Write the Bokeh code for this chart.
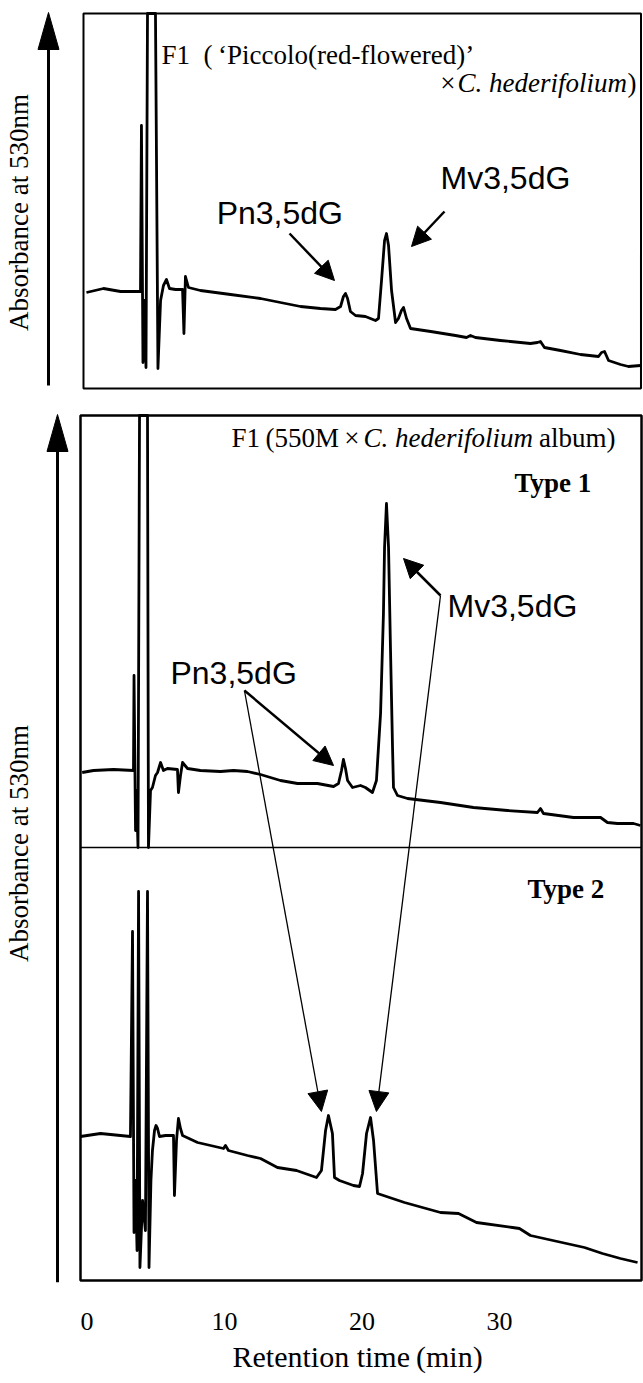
import math
from bokeh.plotting import figure
from bokeh.models import Range1d, LinearAxis, FixedTicker, Label, Arrow, NormalHead, Title
from bokeh.embed import file_html
from bokeh.resources import INLINE

# ---------------- data (retention time in min, absorbance in arbitrary units) ----------------
top_time = [-0.04, 1.20, 2.44, 3.89, 3.96, 4.07, 4.18, 4.29, 4.40, 4.98, 5.16, 5.35, 5.56, 5.78,
            6.00, 6.44, 6.95, 7.05, 7.16, 7.38, 8.25, 10.44, 12.62, 14.07, 15.53, 16.98, 18.07,
            18.44, 18.65, 18.80, 18.95, 19.16, 19.53, 20.25, 20.98, 21.20, 21.42, 21.64, 21.78,
            21.93, 22.15, 22.44, 22.65, 22.87, 23.02, 23.24, 23.53, 25.00, 26.80, 27.60, 27.89,
            28.25, 30.07, 32.25, 32.76, 32.98, 33.27, 34.44, 35.89, 37.20, 37.42, 37.64, 37.93,
            38.80, 39.38, 40.25]
top_abs = [96, 100, 97, 97, 263, 26, 88, 21, 375, 375, 20, 88, 103, 109,
           100, 99, 99, 55, 112, 101, 98, 94, 90, 86, 82, 80, 79,
           82, 92, 95, 90, 77, 73, 72, 68, 70, 108, 148, 155,
           143, 98, 66, 70, 78, 81, 70, 60, 57, 53, 51, 53,
           51, 48, 45, 46, 47, 41, 38, 34, 32, 36, 37, 28,
           24, 22, 23]

t1_time = [-0.35, 0.47, 1.93, 3.38, 3.42, 3.53, 3.60, 3.71, 3.82, 4.40, 4.47, 4.62, 4.76, 4.98,
           5.13, 5.35, 5.56, 5.85, 6.58, 6.65, 6.80, 6.95, 7.31, 8.25, 9.71, 10.65, 11.67, 12.62,
           14.07, 15.31, 16.76, 17.93, 18.29, 18.51, 18.65, 18.80, 18.95, 19.31, 19.89, 20.25,
           20.76, 21.05, 21.35, 21.56, 21.64, 21.78, 21.93, 22.07, 22.22, 22.29, 22.58, 23.31,
           25.71, 28.11, 30.58, 32.76, 32.98, 33.20, 35.38, 37.35, 37.85, 38.58, 39.75, 40.25]
t1_abs = [75, 77, 78, 77, 172, 17, 57, 0, 432, 432, 0, 57, 60, 72,
          75, 85, 77, 79, 78, 55, 72, 85, 79, 77, 76, 77, 76, 73,
          67, 64, 64, 61, 64, 77, 88, 79, 67, 60, 62, 60,
          55, 67, 134, 234, 300, 344, 300, 200, 100, 60, 52, 49,
          45, 40, 37, 35, 39, 34, 30, 30, 25, 24, 24, 22]

t2_time = [-0.47, 0.98, 3.16, 3.31, 3.42, 3.53, 3.64, 3.75, 3.85, 4.04, 4.25, 4.40, 4.51, 4.65,
           4.76, 4.91, 5.02, 5.13, 5.27, 5.71, 6.29, 6.36, 6.51, 6.65, 6.80, 6.95, 8.04, 9.93,
           10.07, 10.29, 11.67, 12.62, 13.85, 15.24, 16.69, 17.05, 17.35, 17.56, 17.85, 18.00,
           18.36, 19.38, 19.82, 20.04, 20.33, 20.62, 20.84, 21.13, 22.00, 23.09, 25.71, 27.02,
           28.33, 30.95, 31.45, 32.25, 34.87, 36.18, 37.49, 38.80, 40.04]
t2_abs = [144, 147, 144, 349, 48, 100, 30, 389, 13, 80, 50, 389, 13, 100,
          130, 150, 155, 152, 144, 145, 145, 85, 140, 162, 152, 145, 138, 132,
          135, 130, 125, 122, 113, 110, 103, 110, 150, 165, 147, 103,
          100, 95, 94, 107, 147, 163, 140, 87, 83, 78, 68, 67,
          58, 53, 52, 45, 37, 33, 27, 22, 18]

x_ticks = [0, 10, 20, 30]

# ---------------- layout (frame units: 1 unit = 1 px, measured from frame bottom) ----------------
FRAME_W, FRAME_H = 643, 1282
X_RANGE = (-6.291, 40.473)
TOP_BOX = (-0.255, 40.29, 894, 1269)      # left, right, bottom, top
LOW_BOX = (-0.473, 40.33, 2, 867)
DIVIDER = 435
BASES = {"top": 894, "t1": 435, "t2": 2}
PX = (X_RANGE[1] - X_RANGE[0]) / FRAME_W   # minutes per pixel

SERIF = "Liberation Serif"
SANS = "Liberation Sans"

p = figure(frame_width=FRAME_W, frame_height=FRAME_H,
           x_range=Range1d(*X_RANGE), y_range=Range1d(0, FRAME_H),
           x_axis_location=None, y_axis_location=None,
           output_backend="svg", toolbar_location=None,
           min_border_left=0, min_border_right=0, min_border_top=0, min_border_bottom=0)
p.outline_line_color = None
p.xgrid.visible = False
p.ygrid.visible = False
p.background_fill_color = "white"
p.border_fill_color = "white"

for name, base in BASES.items():
    p.extra_y_ranges[name] = Range1d(-base, FRAME_H - base)

# x axis (tick labels) + axis title placed under the panel box
xa = LinearAxis(ticker=FixedTicker(ticks=x_ticks))
xa.axis_line_color = None
xa.major_tick_line_color = None
xa.minor_tick_line_color = None
xa.major_tick_out = 0
xa.major_tick_in = 0
xa.major_label_standoff = 30
xa.major_label_text_font = SERIF
xa.major_label_text_font_size = "26px"
xa.major_label_text_color = "black"
p.add_layout(xa, "below")

p.add_layout(Title(text="Retention time\u2009(min)", align="left", offset=232, standoff=10,
                   text_font=SERIF, text_font_size="30px", text_font_style="normal",
                   text_color="black"), "below")

# panel boxes
for (l, r, b, t), w in ((TOP_BOX, 2.0), (LOW_BOX, 2.5)):
    p.quad(left=[l], right=[r], bottom=[b], top=[t], fill_color=None,
           line_color="black", line_width=w)
p.segment(x0=[LOW_BOX[0]], y0=[DIVIDER], x1=[LOW_BOX[1]], y1=[DIVIDER],
          line_color="black", line_width=1.6)

# chromatograms
for xs, ys, rn in ((top_time, top_abs, "top"), (t1_time, t1_abs, "t1"), (t2_time, t2_abs, "t2")):
    p.line(xs, ys, y_range_name=rn, line_color="black", line_width=2.8, line_join="round")

# y "axes" drawn as arrows
def axis_arrow(xc, y0, y1, head_len=37, head_w=21):
    p.segment(x0=[xc], y0=[y0], x1=[xc], y1=[y1 - head_len + 2], line_color="black", line_width=3)
    hw = head_w / 2 * PX
    p.patch([xc - hw, xc, xc + hw], [y1 - head_len, y1, y1 - head_len],
            fill_color="black", line_color="black", line_width=1)

axis_arrow(-2.80, 897, 1270)
axis_arrow(-2.145, 0, 868)

def ylab(y):
    p.add_layout(Label(x=-4.91, y=y, text="Absorbance at 530nm", angle=math.pi / 2,
                       text_align="center", text_baseline="middle",
                       text_font=SERIF, text_font_size="27px", text_color="black"))
ylab(1070)
ylab(439)

def lab(x, y, text, font=SERIF, size="27px", align="left", style="normal"):
    p.add_layout(Label(x=x, y=y, text=text, text_align=align, text_baseline="middle",
                       text_font=font, text_font_size=size, text_font_style=style,
                       text_color="black"))

# top panel titles
lab(5.42, 1228, "F1\u2002(\u2009\u2018Piccolo(red-flowered)\u2019")
lab(26.80, 1200, "\u00d7", align="right")
lab(26.95, 1200, "C. hederifolium", style="italic")
lab(39.31, 1200, ")")
lab(9.43, 1070, "Pn3,5dG", font=SANS, size="32px")
lab(25.71, 1105, "Mv3,5dG", font=SANS, size="32px")

# bottom panel titles
lab(19.82, 845, "F1\u2009(550M\u2009\u00d7", align="right")
lab(20.11, 845, "C. hederifolium", style="italic")
lab(38.44, 845, "album)", align="right")
lab(31.09, 800, "Type 1", style="bold")
lab(32.04, 394, "Type 2", style="bold")
lab(26.22, 677, "Mv3,5dG", font=SANS, size="32px")
lab(6.07, 610, "Pn3,5dG", font=SANS, size="32px")

def arrow(x0, y0, x1, y1, w=2.5, size=19):
    p.add_layout(Arrow(end=NormalHead(size=size, fill_color="black", line_color="black", line_width=1),
                       x_start=x0, y_start=y0, x_end=x1, y_end=y1,
                       line_color="black", line_width=w))

arrow(14.73, 1049, 18.00, 1002)
arrow(26.00, 1071, 23.60, 1036)
arrow(25.71, 687, 23.02, 724)
arrow(25.71, 687, 21.05, 171, w=1.3, size=20)
arrow(11.45, 592, 17.93, 517)
arrow(11.45, 592, 17.05, 171, w=1.3, size=20)

open("out.html", "w").write(file_html(p, INLINE))
